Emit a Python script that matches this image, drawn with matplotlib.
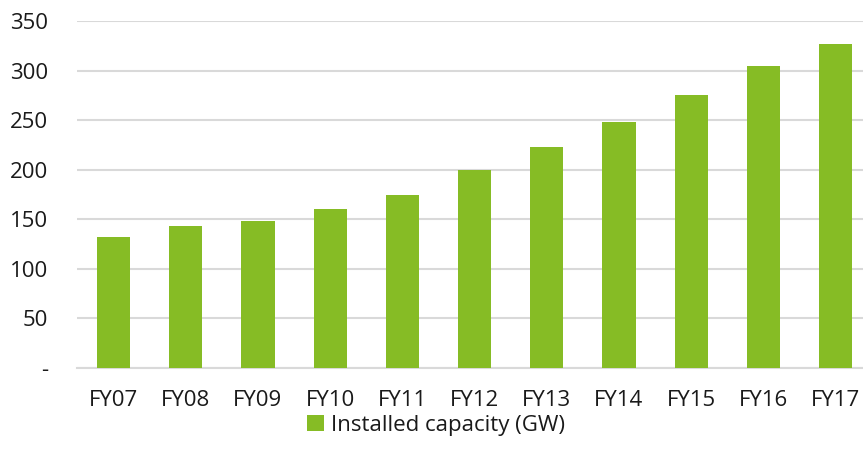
import matplotlib
matplotlib.use("Agg")
import matplotlib.pyplot as plt
from matplotlib.patches import Patch

years = ["FY07", "FY08", "FY09", "FY10", "FY11", "FY12",
         "FY13", "FY14", "FY15", "FY16", "FY17"]
capacity = [132, 143, 148, 160, 174, 200, 223, 248, 275, 305, 327]
yticks = [0, 50, 100, 150, 200, 250, 300, 350]
ytick_labels = ["-", "50", "100", "150", "200", "250", "300", "350"]

GREEN = "#86BC25"
GRID = "#d9d9d9"

plt.rcParams["font.family"] = ["Open Sans", "DejaVu Sans"]

fig = plt.figure(figsize=(8.63, 4.67), dpi=100)
ax = fig.add_axes([77.4 / 863, 99.3 / 467, 1 - 77.4 / 863, 346.7 / 467])

x = range(len(years))
ax.bar(x, capacity, width=0.46, color=GREEN, zorder=3)

ax.set_ylim(0, 350)
ax.set_xlim(-0.5, 10.38)
ax.set_yticks(yticks)
ax.set_yticklabels(ytick_labels)
ax.set_xticks(list(x))
ax.set_xticklabels(years)
ax.tick_params(axis="both", length=0, labelsize=16, colors="#1a1a1a")
ax.tick_params(axis="y", pad=21)
ax.tick_params(axis="x", pad=16)
ax.grid(axis="y", color=GRID, linewidth=1.5, zorder=0)
for s in ["top", "right", "left"]:
    ax.spines[s].set_visible(False)
ax.spines["bottom"].set_color(GRID)
ax.spines["bottom"].set_linewidth(1.5)

handles = [Patch(facecolor=GREEN, label="Installed capacity (GW)")]
fig.legend(handles=handles, loc="center", bbox_to_anchor=(436 / 863, 1 - 425 / 467),
           bbox_transform=fig.transFigure,
           frameon=False, fontsize=16, handlelength=0.75, handleheight=0.75,
           handletextpad=0.3, labelcolor="#1a1a1a", borderpad=0, borderaxespad=0)

fig.savefig("out.png", dpi=100)
